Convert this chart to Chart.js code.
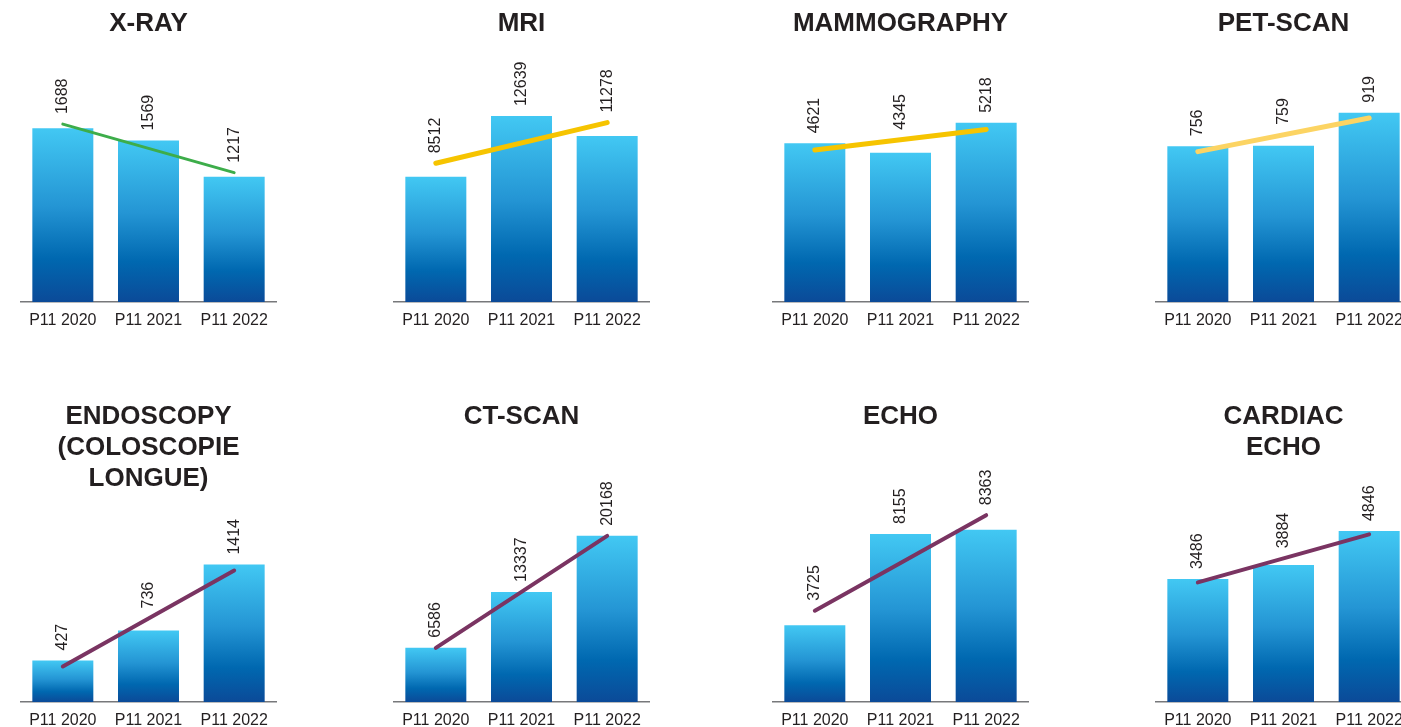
<!DOCTYPE html>
<html>
<head>
<meta charset="utf-8">
<script src="https://cdn.jsdelivr.net/npm/chart.js@4.4.0/dist/chart.umd.min.js"></script>
<style>
  html, body { margin: 0; padding: 0; background: #fff; overflow: hidden; width: 1401px; height: 727px; }
  .panel { position: absolute; }
</style>
</head>
<body>
<script>
// categories
const years = ['P11 2020', 'P11 2021', 'P11 2022'];

// one title per chart (multi-line where the original wraps)
const titles = [
  ['X-RAY'], ['MRI'], ['MAMMOGRAPHY'], ['PET-SCAN'],
  ['ENDOSCOPY', '(COLOSCOPIE', 'LONGUE)'], ['CT-SCAN'], ['ECHO'], ['CARDIAC', 'ECHO']
];

// bar values
const xray = [1688, 1569, 1217];
const mri = [8512, 12639, 11278];
const mammography = [4621, 4345, 5218];
const petScan = [756, 759, 919];
const endoscopy = [427, 736, 1414];
const ctScan = [6586, 13337, 20168];
const echo = [3725, 8155, 8363];
const cardiacEcho = [3486, 3884, 4846];

// trend line ends (first and last year)
const trendStart = [1727, 9427, 4430, 730, 366, 6573, 4429, 3392];
const trendEnd = [1256, 12193, 5027, 893, 1353, 20155, 9067, 4752];

// value axis maximum of each chart
const yMax = [2000, 14000, 6000, 1000, 2120, 25000, 10000, 5840];

const series = [xray, mri, mammography, petScan, endoscopy, ctScan, echo, cardiacEcho];

const trendColors = ['#3dad4a', '#f6c400', '#f6c400', '#fcd463', '#7a3462', '#7a3462', '#7a3462', '#7a3462'];
const trendWidths = [3, 5, 5, 5, 4, 4, 4, 4];

const colLeft = [20, 393, 772, 1155];
const rowTop = [0, 393];
const rowAxis = [302, 702];
const panelW = 257, panelH = 350;
const textColor = '#231f20';
const fontFamily = '"Liberation Sans", Arial, Helvetica, sans-serif';

Chart.defaults.font.family = fontFamily;

function barFill(c) {
  const chart = c.chart;
  if (c.type !== 'data' || !chart.chartArea) return '#1f8fd0';
  const y = chart.scales.y;
  const top = y.getPixelForValue(c.raw);
  const base = y.getPixelForValue(0);
  const g = chart.ctx.createLinearGradient(0, top, 0, base);
  g.addColorStop(0, '#42c8f3');
  g.addColorStop(0.45, '#2495d4');
  g.addColorStop(0.75, '#0068b0');
  g.addColorStop(1, '#0b4a98');
  return g;
}

// rotated value labels above the bar (or the trend line, whichever is higher)
const valueLabels = {
  id: 'valueLabels',
  afterDatasetsDraw(chart) {
    const ctx = chart.ctx;
    const pts = chart.getDatasetMeta(0).data;
    const bars = chart.getDatasetMeta(1).data;
    const vals = chart.data.datasets[1].data;
    ctx.save();
    ctx.font = '16px ' + fontFamily;
    ctx.fillStyle = textColor;
    ctx.textAlign = 'left';
    ctx.textBaseline = 'middle';
    bars.forEach((bar, i) => {
      const lineY = i === 1 ? (pts[0].y + pts[2].y) / 2 : pts[i].y;
      const top = Math.min(bar.y, lineY) - 10;
      ctx.save();
      ctx.translate(bar.x, top);
      ctx.rotate(-Math.PI / 2);
      ctx.fillText(String(vals[i]), 0, 0);
      ctx.restore();
    });
    ctx.restore();
  }
};

series.forEach((vals, i) => {
  const row = Math.floor(i / 4), col = i % 4;
  const top = rowTop[row];
  const div = document.createElement('div');
  div.className = 'panel';
  div.style.left = colLeft[col] + 'px';
  div.style.top = top + 'px';
  const canvas = document.createElement('canvas');
  canvas.width = panelW;
  canvas.height = panelH;
  div.appendChild(canvas);
  document.body.appendChild(div);

  const nLines = titles[i].length;
  const areaTop = row === 0 ? 96 : 103;
  const axisH = 19.2 + 2 * 9;

  new Chart(canvas, {
    type: 'bar',
    data: {
      labels: years,
      datasets: [
        {
          type: 'line',
          data: [trendStart[i], null, trendEnd[i]],
          borderColor: trendColors[i],
          borderWidth: trendWidths[i],
          borderCapStyle: 'round',
          pointRadius: 0,
          spanGaps: true,
          clip: false,
          order: 0
        },
        {
          data: vals,
          backgroundColor: barFill,
          categoryPercentage: 1,
          barPercentage: 0.712,
          order: 1
        }
      ]
    },
    options: {
      responsive: false,
      animation: false,
      layout: { padding: { bottom: panelH - axisH - (rowAxis[row] - top) } },
      plugins: {
        legend: { display: false },
        tooltip: { enabled: false },
        title: {
          display: true,
          text: titles[i],
          color: textColor,
          font: { size: 26, weight: 'bold', lineHeight: 1.2 },
          padding: { top: 8, bottom: areaTop - 8 - 31.2 * nLines }
        }
      },
      scales: {
        x: {
          grid: { display: false, drawTicks: false },
          border: { display: true, color: '#77787b', width: 1.5 },
          ticks: { color: textColor, font: { size: 16 }, padding: 9, maxRotation: 0, autoSkip: false }
        },
        y: { display: false, min: 0, max: yMax[i] }
      }
    },
    plugins: [valueLabels]
  });
});
</script>
</body>
</html>
